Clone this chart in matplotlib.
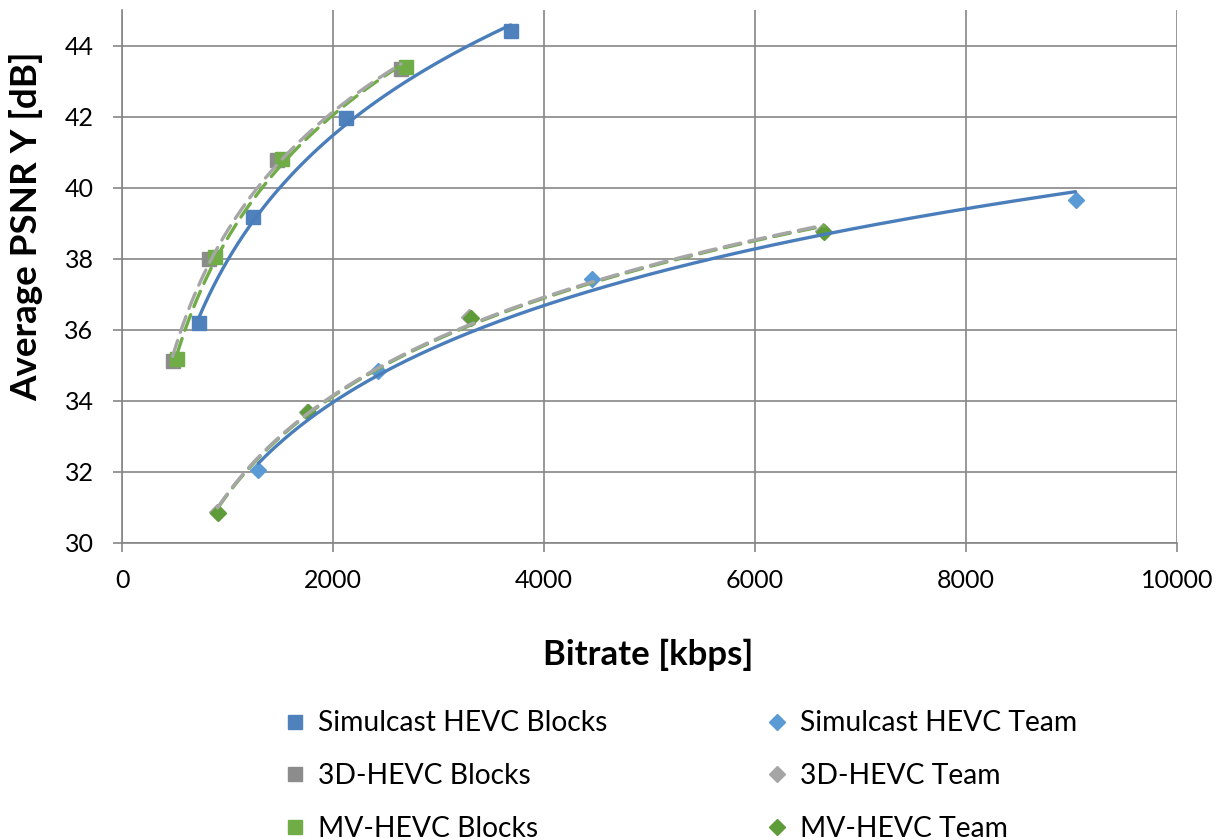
import numpy as np
import matplotlib
matplotlib.use("Agg")
import matplotlib.pyplot as plt

plt.rcParams["font.family"] = ["Lato", "DejaVu Sans"]

# values (bitrate kbps, PSNR dB)
sim_blocks_x = [730, 1239, 2123, 3684]
sim_blocks_y = [36.20, 39.18, 41.95, 44.42]
d3_blocks_x = [480, 828, 1466, 2645]
d3_blocks_y = [35.12, 38.00, 40.78, 43.35]
mv_blocks_x = [521, 881, 1513, 2692]
mv_blocks_y = [35.18, 38.05, 40.80, 43.40]

sim_team_x = [1292, 2424, 4455, 9038]
sim_team_y = [32.05, 34.83, 37.42, 39.65]
d3_team_x = [905, 1750, 3290, 6640]
d3_team_y = [30.88, 33.68, 36.35, 38.78]
mv_team_x = [907, 1760, 3305, 6658]
mv_team_y = [30.85, 33.70, 36.34, 38.76]

x_ticks = [0, 2000, 4000, 6000, 8000, 10000]
y_ticks = [30, 32, 34, 36, 38, 40, 42, 44]

BLUE_SQ = "#4F81BD"
BLUE_DM = "#5B9BD5"
BLUE_LINE = "#4A7EBB"
GREY_SQ = "#8C8C8C"
GREY_DM = "#A5A5A5"
GREY_LINE = "#A6A6A6"
GREEN_SQ = "#70AD47"
GREEN_DM = "#5E9C3A"
GREEN_LINE = "#70AD47"
GRID = "#868686"


def log_trend(ax, xs, ys, color, style):
    # Excel-style logarithmic trendline over the data range
    xs = np.asarray(xs, dtype=float)
    ys = np.asarray(ys, dtype=float)
    a, b = np.polyfit(np.log(xs), ys, 1)
    xx = np.linspace(xs.min(), xs.max(), 200)
    line, = ax.plot(xx, a * np.log(xx) + b, color=color, lw=2.4, zorder=4,
                    solid_capstyle="round")
    if style == "dash":
        line.set_dashes((5, 2.6))
        line.set_dash_capstyle("round")
    return line


fig = plt.figure(figsize=(12.28, 8.4), dpi=100)
ax = fig.add_axes([122 / 1228, 1 - 543 / 840, 1055 / 1228, 533 / 840])

ms_sq = 10
ms_dm = 8.5
series = [
    (sim_blocks_x, sim_blocks_y, "s", BLUE_SQ, ms_sq, "Simulcast HEVC Blocks"),
    (d3_blocks_x, d3_blocks_y, "s", GREY_SQ, ms_sq, "3D-HEVC Blocks"),
    (mv_blocks_x, mv_blocks_y, "s", GREEN_SQ, ms_sq, "MV-HEVC Blocks"),
    (sim_team_x, sim_team_y, "D", BLUE_DM, ms_dm, "Simulcast HEVC Team"),
    (d3_team_x, d3_team_y, "D", GREY_DM, ms_dm, "3D-HEVC Team"),
    (mv_team_x, mv_team_y, "D", GREEN_DM, ms_dm, "MV-HEVC Team"),
]
handles = []
for xs, ys, mk, col, ms, lab in series:
    h, = ax.plot(xs, ys, ls="none", marker=mk, ms=ms, color=col, mec=col,
                 zorder=3, label=lab)
    handles.append(h)

log_trend(ax, sim_blocks_x, sim_blocks_y, BLUE_LINE, "solid")
log_trend(ax, mv_blocks_x, mv_blocks_y, GREEN_LINE, "dash")
log_trend(ax, d3_blocks_x, d3_blocks_y, GREY_LINE, "dash")
log_trend(ax, sim_team_x, sim_team_y, BLUE_LINE, "solid")
log_trend(ax, mv_team_x, mv_team_y, GREEN_LINE, "dash")
log_trend(ax, d3_team_x, d3_team_y, GREY_LINE, "dash")

ax.set_xlim(0, 10000)
ax.set_ylim(30, 45)
ax.set_xticks(x_ticks)
ax.set_yticks(y_ticks)
ax.grid(True, color=GRID, lw=1.2, zorder=0)
ax.set_axisbelow(True)
for side in ["top", "right"]:
    ax.spines[side].set_visible(False)
for side in ["left", "bottom"]:
    ax.spines[side].set_color(GRID)
    ax.spines[side].set_linewidth(1.2)
ax.tick_params(axis="both", direction="out", length=6.5, width=1.2, color=GRID,
               labelsize=18, labelcolor="black")
ax.tick_params(axis="x", pad=12)
ax.tick_params(axis="y", pad=14)

fig.text(648 / 1228, 1 - 655 / 840, "Bitrate [kbps]", ha="center", va="center",
         fontsize=25, fontweight="bold")
fig.text(26 / 1228, 1 - 226 / 840, "Average PSNR Y [dB]", ha="center", va="center",
         rotation=90, fontsize=26.5, fontweight="bold")

leg_kw = dict(loc="center left", frameon=False, fontsize=20.3, handlelength=0.8,
              handletextpad=0.4, labelspacing=0.94, borderpad=0, borderaxespad=0)
fig.legend(handles[:3], [h.get_label() for h in handles[:3]],
           bbox_to_anchor=(284 / 1228, 1 - 776 / 840), **leg_kw)
fig.legend(handles[3:], [h.get_label() for h in handles[3:]],
           bbox_to_anchor=(766 / 1228, 1 - 776 / 840), **leg_kw)

fig.savefig("out.png", dpi=100)
